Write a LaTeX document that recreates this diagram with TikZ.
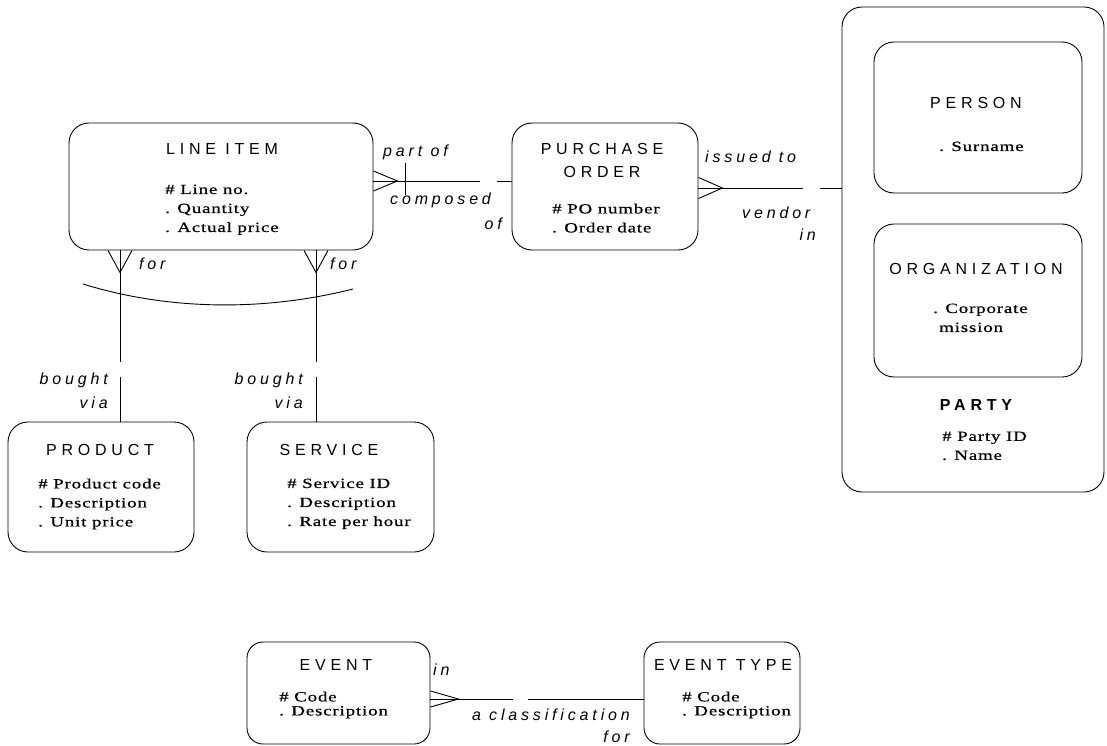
\documentclass[tikz,border=0pt]{standalone}
\usepackage{fontspec}
\setmainfont{Liberation Serif}
\newfontfamily\titlefont[LetterSpace=30]{Liberation Sans}
\newfontfamily\rolefont[LetterSpace=24]{Liberation Sans}
\newfontfamily\attrfont[FakeStretch=1.35,LetterSpace=6,FakeBold=0.6]{Liberation Serif}
\usetikzlibrary{calc}

\tikzset{
  entity/.style={draw, line width=0.9pt, rounded corners=20pt},
  title/.style={font=\titlefont\fontsize{16}{23}\selectfont, align=center},
  attr/.style={font=\attrfont\fontsize{14}{19}\selectfont, align=left, anchor=north west, inner sep=0pt},
  role/.style={font=\rolefont\itshape\fontsize{16}{18}\selectfont, inner sep=0pt},
  rel/.style={line width=0.9pt}
}

\begin{document}
\begin{tikzpicture}[x=1pt,y=-1pt]
  \useasboundingbox (0,0) rectangle (1107,746);

  % entities
  \node[entity, minimum width=304pt, minimum height=127pt] (LiIt) at (221,186.5) {};
  \node[entity, minimum width=186pt, minimum height=127pt] (PuOr) at (605,186.5) {};
  \node[entity, minimum width=262pt, minimum height=485pt] (Pa) at (973,249.5) {};
  \node[entity, minimum width=208pt, minimum height=151pt] (Pe) at (978,117.5) {};
  \node[entity, minimum width=208pt, minimum height=153pt] (Or) at (978,300.5) {};
  \node[entity, minimum width=186pt, minimum height=130pt] (Pr) at (101,487) {};
  \node[entity, minimum width=187pt, minimum height=130pt] (Se) at (340.5,487) {};
  \node[entity, minimum width=183pt, minimum height=102pt, rounded corners=16pt] (Ev) at (338.5,693) {};
  \node[entity, minimum width=156pt, minimum height=102pt, rounded corners=16pt] (EvTy) at (722,693) {};

  % titles
  \node[title] (LiItT) at (222,149) {LINE ITEM};
  \node[title] (PuOrT) at (602,160.5) {PURCHASE\\ORDER};
  \node[title] (PeT) at (976,103) {PERSON};
  \node[title] (OrT) at (976,269) {ORGANIZATION};
  \node[title, font=\titlefont\bfseries\fontsize{16}{18}\selectfont] (PaT) at (976,405) {PARTY};
  \node[title] (PrT) at (100,450) {PRODUCT};
  \node[title] (SeT) at (329,450) {SERVICE};
  \node[title] (EvT) at (336,665) {EVENT};
  \node[title] (EvTyT) at (723,665) {EVENT TYPE};

  % attributes
  \node[attr] (LiItA) at (165,184.5) {\# Line no.\\. Quantity\\. Actual price};
  \node[attr] (PuOrA) at (552,203.5) {\# PO number\\. Order date};
  \node[attr] (PeA) at (939,141.5) {. Surname};
  \node[attr] (OrA) at (933,303.5) {. Corporate\\\hspace*{6pt}mission};
  \node[attr] (PaA) at (942,431.5) {\# Party ID\\. Name};
  \node[attr] (PrA) at (38,478.5) {\# Product code\\. Description\\. Unit price};
  \node[attr] (SeA) at (287,478.5) {\# Service ID\\. Description\\. Rate per hour};
  \node[attr, font=\attrfont\fontsize{14}{14}\selectfont] (EvA) at (279,691.5) {\# Code\\. Description};
  \node[attr, font=\attrfont\fontsize{14}{14}\selectfont] (EvTyA) at (682,691.5) {\# Code\\. Description};

  % line item -- purchase order
  \coordinate (LiPo) at ($(LiIt.east)+(0,-5.5)$);
  \draw[rel] ($(LiPo)+(0,-10)$) -- ($(LiPo)+(24,0)$) -- ($(LiPo)+(0,10)$);
  \draw[rel] (LiPo) -- ($(LiPo)+(107,0)$);
  \draw[rel] ($(PuOr.west|-LiPo)+(-15,0)$) -- (PuOr.west|-LiPo);
  \draw[rel] ($(LiPo)+(32,-18)$) -- ($(LiPo)+(32,14)$);
  \node[role, anchor=west] (paof) at (383,152) {part of};
  \node[role, anchor=west] (comp) at (390,200) {composed};
  \node[role, anchor=east] (coof) at (502,224) {of};

  % purchase order -- party
  \coordinate (PoPa) at ($(PuOr.east)+(0,1.5)$);
  \draw[rel] ($(PoPa)+(0,-10.5)$) -- ($(PoPa)+(24,0)$) -- ($(PoPa)+(0,10.5)$);
  \draw[rel] (PoPa) -- ($(PoPa)+(105,0)$);
  \draw[rel] ($(Pa.west|-PoPa)+(-22,0)$) -- (Pa.west|-PoPa);
  \node[role, anchor=west] (isto) at (705,157) {issued to};
  \node[role, anchor=west] (vend) at (742,213) {vendor};
  \node[role, anchor=east] (vein) at (816,235) {in};

  % line item -- product / service
  \coordinate (LiPr) at ($(LiIt.south)+(-101,0)$);
  \coordinate (LiSe) at ($(LiIt.south)+(95,0)$);
  \draw[rel] ($(LiPr)+(-12,0)$) -- ($(LiPr)+(0,22)$) -- ($(LiPr)+(12,0)$);
  \draw[rel] (LiPr) -- ($(LiPr)+(0,112)$);
  \draw[rel] ($(Pr.north-|LiPr)+(0,-45)$) -- (Pr.north-|LiPr);
  \draw[rel] ($(LiSe)+(-12,0)$) -- ($(LiSe)+(0,22)$) -- ($(LiSe)+(12,0)$);
  \draw[rel] (LiSe) -- ($(LiSe)+(0,112)$);
  \draw[rel] ($(Se.north-|LiSe)+(0,-45)$) -- (Se.north-|LiSe);
  \draw[rel] (83,284) .. controls (170,311) and (266,311) .. (353,289);
  \node[role, anchor=west] (prfo) at (139,264) {for};
  \node[role, anchor=west] (sefo) at (330,264) {for};
  \node[role, anchor=east] (prbo) at (108,380) {bought};
  \node[role, anchor=east] (prvi) at (108,403) {via};
  \node[role, anchor=east] (sebo) at (303,380) {bought};
  \node[role, anchor=east] (sevi) at (303,403) {via};

  % event -- event type
  \coordinate (EvEt) at ($(Ev.east)+(0,6)$);
  \draw[rel] ($(EvEt)+(0,-8)$) -- ($(EvEt)+(28,0)$) -- ($(EvEt)+(0,8)$);
  \draw[rel] (EvEt) -- ($(EvEt)+(83,0)$);
  \draw[rel] ($(EvTy.west|-EvEt)+(-116,0)$) -- (EvTy.west|-EvEt);
  \node[role, anchor=west] (evin) at (433,670) {in};
  \node[role, anchor=east] (accl) at (630,715) {a classification};
  \node[role, anchor=east] (clfo) at (630,737) {for};

\end{tikzpicture}
\end{document}
